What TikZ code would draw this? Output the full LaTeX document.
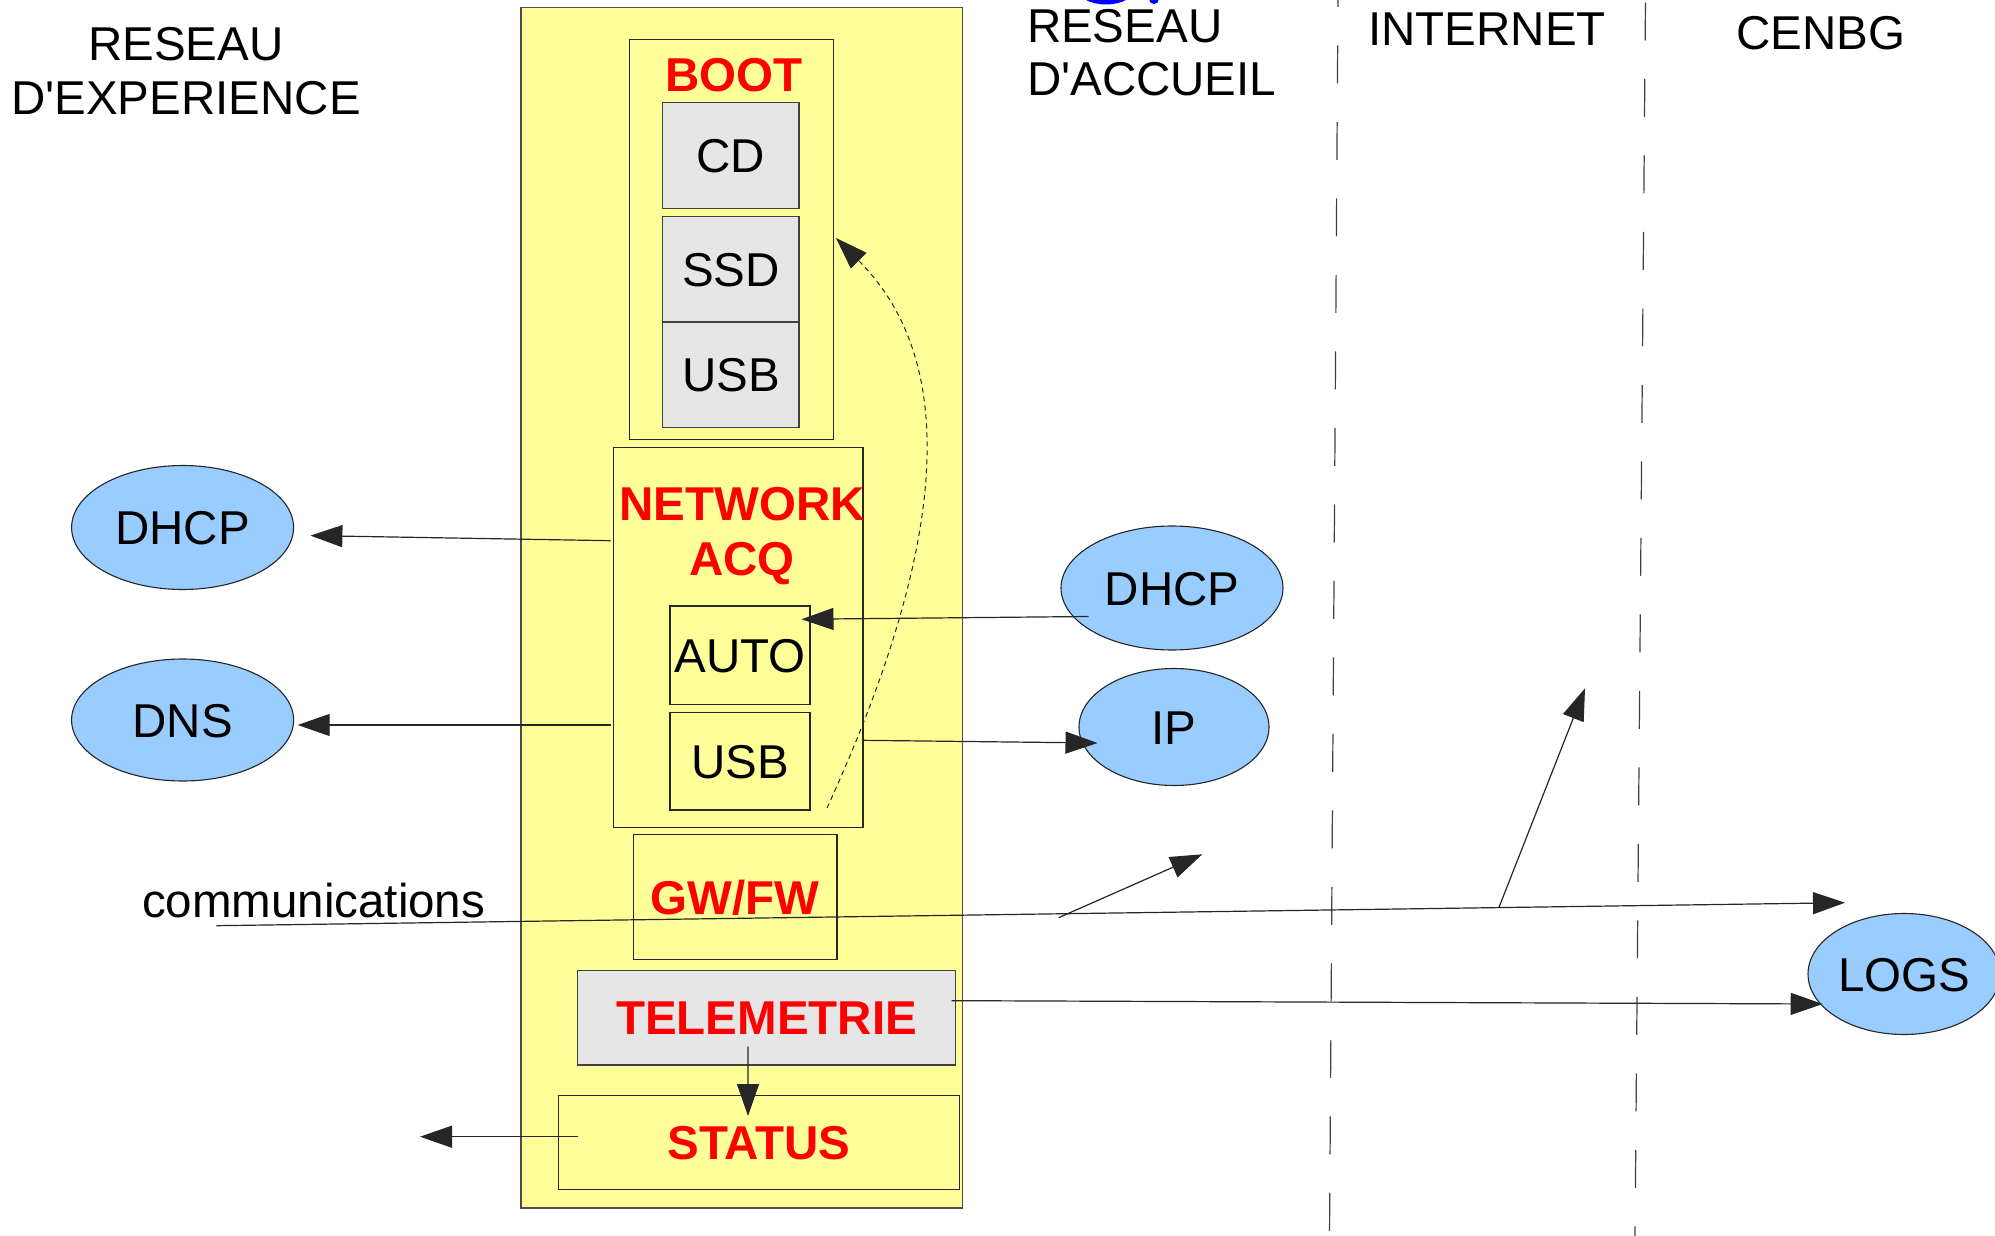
\documentclass[tikz,border=0pt]{standalone}
\usepackage{fontspec}
\newfontfamily\lib{Liberation Sans}
\usetikzlibrary{arrows.meta,shapes.geometric,calc}
\definecolor{yel}{HTML}{FFFF99}
\definecolor{boxgray}{HTML}{E6E6E6}
\definecolor{lblue}{HTML}{99CCFF}
\definecolor{lred}{HTML}{FF0000}
\begin{document}
\begin{tikzpicture}[x=1pt,y=-1pt,
  every node/.style={inner sep=0pt, outer sep=0pt},
  txt/.style={font=\lib\fontsize{47.5}{53.5}\selectfont},
  capbox/.style={txt, text height=34pt, text depth=0pt, align=center},
  ybox/.style={capbox, rectangle, draw=black!85, line width=1.2pt, fill=yel},
  gbox/.style={capbox, rectangle, draw=black!75, line width=1.2pt, fill=boxgray},
  oval/.style={capbox, ellipse, draw=black!85, line width=1.1pt, fill=lblue},
  redlbl/.style={text=lred, font=\lib\bfseries\fontsize{47.5}{55}\selectfont},
  conn/.style={draw=black!85, line width=1.2pt},
  arr/.style={conn, -{Triangle[length=32pt,width=22pt]}},
  zone/.style={draw=black!75, line width=1.2pt, dash pattern=on 38pt off 38.5pt},
]
\fill[white] (0,0) rectangle (1995,1236);
\path[use as bounding box] (0,0) rectangle (1995,1236);

% blue clipped shape at the top
\begin{scope}
\clip (0,0) rectangle (1995,1236);
\draw[blue, line width=5pt] (1106,-14) ellipse [x radius=28, y radius=16];
\fill[blue] (1154,-1) circle [radius=5];
\end{scope}

% zone separators
\draw[zone, dash phase=31pt] (1338,0) -- (1329.5,1236);
\draw[zone, dash phase=74pt] (1645.5,0) -- (1635,1236);

% zone titles (base anchor = baseline of the last line)
\node[txt, align=center, anchor=base] (rexp) at (186,114.3) {RESEAU\\D'EXPERIENCE};
\node[txt, align=left, anchor=base west] (racc) at (1027,96) {RESEAU\\D'ACCUEIL};
\node[txt, anchor=base] (inet) at (1487,45.7) {INTERNET};
\node[txt, anchor=base] (cenbg) at (1821,50) {CENBG};

% main machine
\node[rectangle, draw=black!70, line width=1.3pt, fill=yel, minimum width=441.5pt, minimum height=1200.5pt] (main) at (741.75,607.75) {};

\node[ybox, minimum width=203.8pt, minimum height=399.8pt] (bootbox) at (731.4,239.4) {};
\node[redlbl, anchor=base] (boot) at (733.7,91.7) {BOOT};
\node[gbox, minimum width=136.3pt, minimum height=105.6pt] (cd) at (730.85,155.5) {CD};
\node[gbox, minimum width=136.3pt, minimum height=105.7pt] (ssd) at (730.85,269.15) {SSD};
\node[gbox, minimum width=136.3pt, minimum height=105.7pt] (usba) at (730.85,374.85) {USB};

\node[ybox, minimum width=249.5pt, minimum height=380pt] (netbox) at (738.25,637.3) {};
\node[redlbl, align=center, anchor=base] (net) at (741.9,575) {NETWORK\\ACQ};
\node[ybox, minimum width=140pt, minimum height=98.3pt] (auto) at (740,655.15) {AUTO};
\node[ybox, minimum width=140pt, minimum height=97.7pt] (usbb) at (740,761.15) {USB};

\node[ybox, redlbl, minimum width=203.4pt, minimum height=124.6pt] (gwfw) at (735.3,897) {GW/FW};
\node[gbox, redlbl, minimum width=377.9pt, minimum height=94.3pt] (tele) at (766.55,1017.85) {TELEMETRIE};
\node[ybox, redlbl, minimum width=400.8pt, minimum height=94pt] (status) at (758.9,1142.3) {STATUS};

% services
\node[oval, minimum width=222pt, minimum height=124pt] (dhcpl) at (182.6,527.5) {DHCP};
\node[oval, minimum width=222pt, minimum height=122pt] (dns) at (182.6,720) {DNS};
\node[oval, minimum width=222pt, minimum height=124pt] (dhcpr) at (1172,588) {DHCP};
\node[oval, minimum width=190pt, minimum height=117pt] (ip) at (1174,727) {IP};
\node[oval, minimum width=192pt, minimum height=121pt] (logs) at (1904,974) {LOGS};

\node[txt, anchor=base west] (comm) at (142,917.3) {communications};

% free ends
\coordinate (ca) at (216.3,925.7);
\coordinate (b1s) at (1058.6,917.7);
\coordinate (b1e) at (1202.3,854.3);
\coordinate (b2s) at (1499,907.3);
\coordinate (b2e) at (1585,688.3);
\coordinate (stl) at (420,1136.7);

% connectors
\draw[arr] ($(netbox.west)+(-2.8,-96.6)$) -- ($(dhcpl.east)+(16.8,8.1)$);
\draw[arr] ($(netbox.west)+(-2.8,87.7)$) -- ($(dns.east)+(4.1,5)$);
\draw[arr] ($(dhcpr.center)+(-83.5,28.5)$) -- ($(auto.east)+(-8.5,-35.9)$);
\draw[arr] ($(netbox.east)+(-0.4,103)$) -- ($(ip.west)+(18.5,16)$);
\draw[arr, line width=1pt, dash pattern=on 5pt off 4pt] ($(netbox.south east)+(-36,-19.3)$) .. controls +(114,-249) and +(130,130) .. ($(bootbox.east)+(2.7,-1.4)$);

\draw[arr] (ca) -- ($(logs.center)+(-59,-71.3)$);
\draw[arr] (b1s) -- (b1e);
\draw[arr] (b2s) -- (b2e);
\draw[arr] ($(tele.east)+(-3.8,-17.2)$) -- ($(logs.west)+(14.7,30)$);
\draw[arr] ($(tele.south)+(-18.5,-18.3)$) -- ($(status.north)+(-10.9,20.7)$);
\draw[arr] ($(status.west)+(19.1,-5.6)$) -- (stl);
\end{tikzpicture}
\end{document}
